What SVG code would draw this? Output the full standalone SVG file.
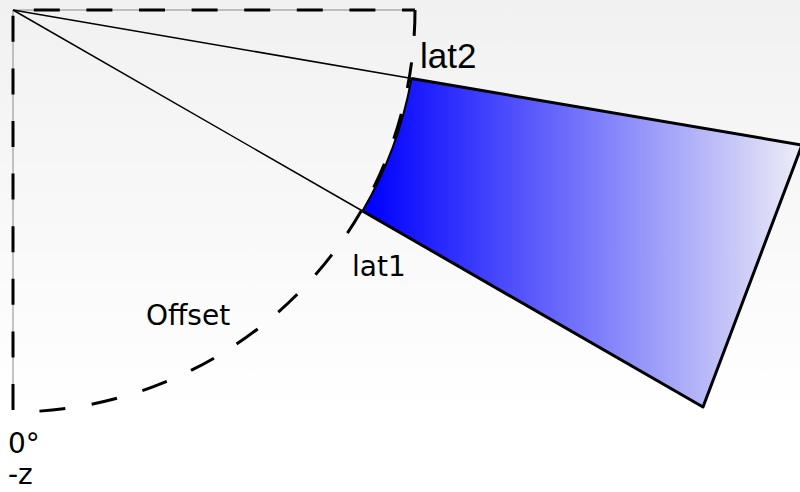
<svg xmlns="http://www.w3.org/2000/svg" width="800" height="492" viewBox="0 0 800 492">
  <defs>
    <linearGradient id="bg" x1="0" y1="0" x2="0" y2="1">
      <stop offset="0" stop-color="#f1f1f1"/>
      <stop offset="0.85" stop-color="#ffffff"/>
      <stop offset="1" stop-color="#ffffff"/>
    </linearGradient>
    <linearGradient id="blueFade" gradientUnits="userSpaceOnUse" x1="368" y1="0" x2="800" y2="0">
      <stop offset="0" stop-color="#0000ff"/>
      <stop offset="1" stop-color="#ececf7"/>
    </linearGradient>
    <style>
      .guide { fill: none; stroke: #8a8a8a; stroke-width: 1; }
      .dash { fill: none; stroke: #000; stroke-width: 3; stroke-dasharray: 26 26.6; }
      .ray { fill: none; stroke: #000; stroke-width: 1.5; }
      .edge { fill: none; stroke: #000; stroke-width: 3; stroke-linejoin: round; }
      .inner { fill: none; stroke: #000; stroke-width: 2; }
      .lbl { font-family: "DejaVu Sans", Verdana, sans-serif; font-size: 28px; fill: #000; }
      .lbl2 { font-family: "Liberation Sans", Arial, sans-serif; font-size: 35px; fill: #000; }
    </style>
  </defs>

  <rect x="0" y="0" width="800" height="492" fill="url(#bg)"/>

  <g id="connectors">
    <path class="guide" d="M13,410 V10 H415"/>
    <path class="dash" d="M13,410 V10 H415"/>
    <path class="dash" d="M415,10 A402,402 0 0 1 13,412"/>
    <line class="ray" x1="13" y1="10" x2="412" y2="78.5"/>
    <line class="ray" x1="13" y1="10" x2="362.5" y2="211"/>
  </g>

  <g id="band">
    <path d="M411.5,78.5 L802,145 L703,407 L362.5,211 A403,403 0 0 0 411.5,78.5 Z" fill="url(#blueFade)" stroke="none"/>
    <path class="edge" d="M411.5,78.5 L802,145 L703,407 L362.5,211"/>
    <path class="inner" d="M362.5,211 A403,403 0 0 0 411.5,78.5"/>
  </g>

  <g id="labels">
    <text class="lbl2" x="420" y="68">lat2</text>
    <text class="lbl" x="352" y="276">lat1</text>
    <text class="lbl" x="146" y="325">Offset</text>
    <text class="lbl" x="8" y="453">0°</text>
    <text class="lbl" x="8" y="484">-z</text>
  </g>
</svg>
